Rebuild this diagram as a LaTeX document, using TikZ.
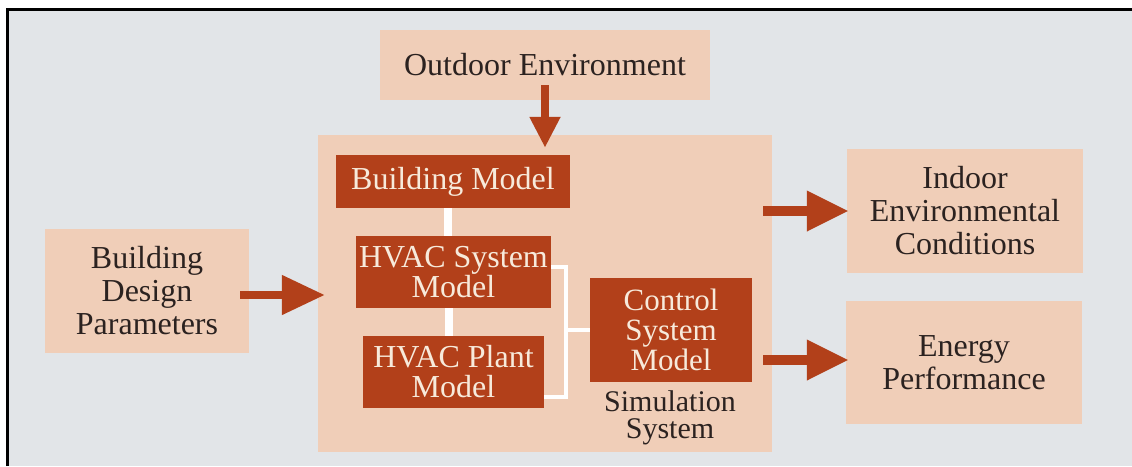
\documentclass[tikz,border=0pt]{standalone}
\usepackage{fontspec}
\setmainfont{Liberation Serif}
\usetikzlibrary{arrows.meta}
\definecolor{bg}{HTML}{E2E5E8}
\definecolor{peach}{HTML}{F0CEB8}
\definecolor{brick}{HTML}{B2401A}
\definecolor{cream}{HTML}{F7EADB}
\definecolor{ink}{HTML}{2B2220}
\begin{document}
\begin{tikzpicture}[x=1pt,y=-1pt,
  pbox/.style={fill=peach, draw=none, inner sep=0pt, align=center, text=ink,
    font=\fontsize{32}{33}\selectfont},
  rbox/.style={fill=brick, draw=none, inner sep=0pt, align=center, text=cream,
    font=\fontsize{32}{30}\selectfont},
  bigarrow/.style={draw=brick, line width=10pt, -{Triangle[length=42pt,width=38pt]}},
  leftarrow/.style={draw=brick, line width=8pt, -{Triangle[length=43pt,width=38pt]}},
  toparrow/.style={draw=brick, line width=8pt, -{Triangle[length=31pt,width=29pt]}},
  wline/.style={draw=white, line width=8pt},
  bracket/.style={draw=white, line width=4.5pt},
]
\useasboundingbox (0,0) rectangle (1132,466);
\fill[white] (0,0) rectangle (1132,466);
\fill[bg] (7,9) rectangle (1132,466);
\draw[line width=3pt] (7,466) -- (7,9) -- (1132,9);

% simulation system container
\node[fill=peach, inner sep=0pt, minimum width=454pt, minimum height=317pt] (sim) at (545,293.5) {};

\node[pbox, minimum width=330pt, minimum height=70pt] (out) at (545,65) {Outdoor Environment};
\node[pbox, minimum width=204pt, minimum height=124pt] (bdp) at (147,291) {Building\\Design\\Parameters};
\node[pbox, minimum width=236pt, minimum height=124pt] (indoor) at (965,211) {Indoor\\Environmental\\Conditions};
\node[pbox, minimum width=236pt, minimum height=123pt] (energy) at (964,362.5) {Energy\\Performance};

\node[rbox, minimum width=234pt, minimum height=53pt] (bm) at (453,181.5) {Building Model};
\node[rbox, minimum width=195pt, minimum height=72pt] (hsys) at (453.5,272) {HVAC System\\Model};
\node[rbox, minimum width=181pt, minimum height=72pt] (hplant) at (453.5,372) {HVAC Plant\\Model};
\node[rbox, minimum width=162pt, minimum height=104pt, font=\fontsize{31}{30}\selectfont] (ctrl) at (671,330) {Control\\System\\Model};
\node[align=center, text=ink, inner sep=0pt, font=\fontsize{30}{27.5}\selectfont] (simlabel) at (670,418) {Simulation\\System};

% white links
\draw[wline] ([xshift=-5pt]bm.south) -- ([xshift=-5pt]bm.south |- hsys.north);
\draw[wline] ([xshift=-5pt]hsys.south) -- ([xshift=-5pt]hsys.south |- hplant.north);
\coordinate (brk) at (566,330);
\draw[bracket] ([yshift=5pt]hsys.east) -| (brk) |- ([yshift=-25pt]hplant.east);
\draw[bracket] (brk) -- (ctrl.west);

% arrows
\draw[toparrow] ([yshift=15pt]out.south) -- ([yshift=-13pt]out.south |- sim.north);
\draw[leftarrow] ([xshift=-9pt]bdp.east |- 0,295) -- ([xshift=7pt]sim.west |- 0,295);
\draw[bigarrow] ([xshift=-9pt]sim.east |- indoor.west) -- ([xshift=2pt]indoor.west);
\draw[bigarrow] ([xshift=-9pt]sim.east |- 0,360) -- ([xshift=3pt]energy.west |- 0,360);
\end{tikzpicture}
\end{document}
